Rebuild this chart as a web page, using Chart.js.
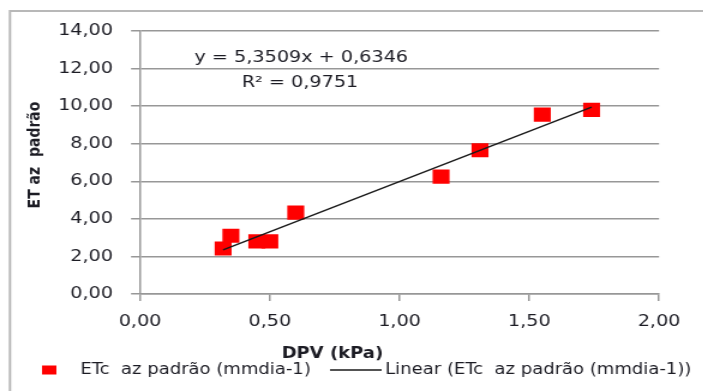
<!DOCTYPE html>
<html>
<head>
<meta charset="utf-8">
<script src="https://cdn.jsdelivr.net/npm/chart.js@4"></script>
<style>
  html, body { margin: 0; padding: 0; background: #fff; overflow: hidden; }
  #wrap { position: absolute; left: 0; top: 0; width: 586px; height: 391px;
          transform: scaleX(1.2); transform-origin: 0 0; }
</style>
</head>
<body>
<div id="wrap"><canvas id="c"></canvas></div>
<script>
// DPV (kPa) versus ET az padrão
const dpv = [0.32, 0.35, 0.45, 0.50, 0.60, 1.16, 1.31, 1.55, 1.74];
const etc = [2.42, 3.10, 2.80, 2.80, 4.33, 6.25, 7.65, 9.55, 9.80];

// Linear trend line coefficients
const slope = 5.3509;
const intercept = 0.6346;
const rSquared = 0.9751;

const xTickLabels = ['0,00', '0,50', '1,00', '1,50', '2,00'];
const yTickLabels = ['0,00', '2,00', '4,00', '6,00', '8,00', '10,00', '12,00', '14,00'];

const seriesLabel = 'ETc  az padrão (mmdia-1)';
const trendLabel = 'Linear (ETc  az padrão (mmdia-1))';
const xTitle = 'DPV (kPa)';
const yTitle = 'ET az  padrão';

const fmt = (v, d) => v.toFixed(d).replace('.', ',');

const points = dpv.map((x, i) => ({ x: x, y: etc[i] }));
const xMin = Math.min(...dpv), xMax = Math.max(...dpv);
const trend = [xMin, xMax].map(x => ({ x: x, y: slope * x + intercept }));

const FONT = 'DejaVu Sans';
const TEXT = '#1c1c24';
const GRID = '#979797';

Chart.defaults.font.family = FONT;

const decor = {
  id: 'decor',
  beforeDraw(chart) {
    const ctx = chart.ctx;
    ctx.save();
    ctx.strokeStyle = '#b8b8b8';
    ctx.lineWidth = 2;
    ctx.strokeRect(8.3, 11, 700, 500);
    ctx.restore();
  },
  afterDraw(chart) {
    const ctx = chart.ctx;
    const ds = chart.data.datasets;
    ctx.save();
    ctx.fillStyle = TEXT;

    // trend equation
    ctx.font = '16px "' + FONT + '"';
    ctx.textAlign = 'center';
    ctx.textBaseline = 'middle';
    ctx.fillText('y = ' + fmt(slope, 4) + 'x + ' + fmt(intercept, 4), 251, 58);
    ctx.fillText('R² = ' + fmt(rSquared, 4), 250, 83);

    // axis titles
    ctx.font = 'bold 15px "' + FONT + '"';
    ctx.fillText(xTitle, 277, 354);
    ctx.save();
    ctx.translate(29, 155);
    ctx.rotate(-Math.PI / 2);
    ctx.font = 'bold 14px "' + FONT + '"';
    ctx.fillText(yTitle, 0, 0);
    ctx.restore();

    // legend
    const ly = 370;
    ctx.font = '15px "' + FONT + '"';
    ctx.textAlign = 'left';
    ctx.fillStyle = ds[1].backgroundColor;
    ctx.fillRect(35, ly - 4.5, 12, 9);
    ctx.fillStyle = TEXT;
    ctx.fillText(ds[1].label, 67, ly);
    ctx.strokeStyle = ds[0].borderColor;
    ctx.lineWidth = 1.5;
    ctx.beginPath();
    ctx.moveTo(275, ly);
    ctx.lineTo(318, ly);
    ctx.stroke();
    ctx.fillText(ds[0].label, 321, ly);
    ctx.restore();
  }
};

new Chart(document.getElementById('c'), {
  type: 'scatter',
  data: {
    datasets: [
      {
        type: 'line',
        label: trendLabel,
        data: trend,
        borderColor: '#1a1a1a',
        borderWidth: 1.5,
        pointRadius: 0,
        fill: false,
        order: 0
      },
      {
        label: seriesLabel,
        data: points,
        backgroundColor: '#ff0000',
        borderWidth: 0,
        pointStyle: 'rect',
        pointRadius: 10,
        order: 1
      }
    ]
  },
  options: {
    responsive: true,
    maintainAspectRatio: false,
    animation: false,
    layout: { padding: { left: 0, right: 36.8, top: 31, bottom: 0 } },
    plugins: {
      legend: { display: false },
      tooltip: { enabled: false },
      title: { display: false }
    },
    scales: {
      x: {
        type: 'linear',
        min: 0,
        max: 2,
        ticks: {
          stepSize: 0.5,
          color: TEXT,
          font: { size: 16 },
          padding: 11,
          maxRotation: 0,
          callback: (v, i) => xTickLabels[i]
        },
        grid: { drawOnChartArea: false, color: GRID, lineWidth: 1.5, tickLength: 7 },
        border: { color: GRID, width: 1.5 },
        afterFit: s => { s.height = 97; }
      },
      y: {
        min: 0,
        max: 14,
        ticks: {
          stepSize: 2,
          color: TEXT,
          font: { size: 16 },
          padding: 15,
          callback: (v, i) => yTickLabels[i]
        },
        grid: { color: GRID, lineWidth: 1.5, tickLength: 7.5 },
        border: { color: GRID, width: 1.5 },
        afterFit: s => { s.width = 116.7; }
      }
    }
  },
  plugins: [decor]
});
</script>
</body>
</html>
